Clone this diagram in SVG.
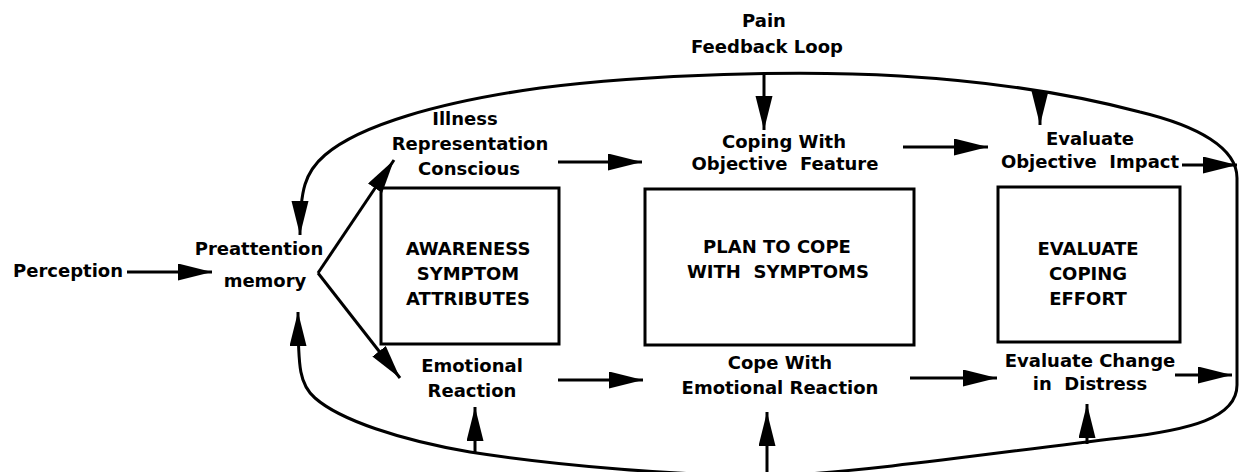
<svg xmlns="http://www.w3.org/2000/svg" width="1240" height="472" viewBox="0 0 1240 472">
  <style>
    text { font-family: "DejaVu Sans", "Verdana", sans-serif; font-weight: bold; font-size: 18px; fill: #000; text-anchor: middle; white-space: pre; }
    .box { fill: none; stroke: #000; stroke-width: 3; }
    .con { fill: none; stroke: #000; stroke-width: 3; }
    .arr { marker-end: url(#ah); }
  </style>
  <defs>
    <marker id="ah" markerUnits="userSpaceOnUse" markerWidth="36" markerHeight="18" refX="34" refY="8.5" orient="auto">
      <path d="M0,0 L34,8.5 L0,17 Z" fill="#000"/>
    </marker>
  </defs>
  <rect width="1240" height="472" fill="#fff"/>

  <g id="pain">
    <text x="764" y="27">Pain</text>
    <text x="767" y="53">Feedback Loop</text>
  </g>
  <g id="perception">
    <text x="68" y="277">Perception</text>
  </g>
  <g id="preattention">
    <text x="259" y="255">Preattention</text>
    <text x="265" y="287">memory</text>
  </g>
  <g id="illness-representation">
    <text x="465" y="125">Illness</text>
    <text x="470" y="150">Representation</text>
    <text x="469" y="175">Conscious</text>
  </g>
  <g id="awareness">
    <rect class="box" x="381" y="188" width="178" height="156"/>
    <text x="468" y="255">AWARENESS</text>
    <text x="468" y="280">SYMPTOM</text>
    <text x="468" y="305">ATTRIBUTES</text>
  </g>
  <g id="emotional-reaction">
    <text x="472" y="372">Emotional</text>
    <text x="472" y="397">Reaction</text>
  </g>
  <g id="coping-objective">
    <text x="784" y="148">Coping With</text>
    <text x="785" y="170">Objective  Feature</text>
  </g>
  <g id="plan">
    <rect class="box" x="645" y="189" width="269" height="156"/>
    <text x="777" y="253">PLAN TO COPE</text>
    <text x="778" y="278">WITH  SYMPTOMS</text>
  </g>
  <g id="cope-emotional">
    <text x="780" y="369">Cope With</text>
    <text x="780" y="394">Emotional Reaction</text>
  </g>
  <g id="evaluate-impact">
    <text x="1090" y="145">Evaluate</text>
    <text x="1090" y="168">Objective  Impact</text>
  </g>
  <g id="evaluate-coping">
    <rect class="box" x="998" y="187" width="182" height="155"/>
    <text x="1088" y="255">EVALUATE</text>
    <text x="1088" y="280">COPING</text>
    <text x="1088" y="305">EFFORT</text>
  </g>
  <g id="evaluate-change">
    <text x="1090" y="367">Evaluate Change</text>
    <text x="1090" y="390">in  Distress</text>
  </g>

  <g id="connectors">
    <path class="con arr" d="M127,272 H212"/>
    <path class="con arr" d="M318,273 L394,160"/>
    <path class="con arr" d="M318,273 L400,378"/>
    <path class="con arr" d="M558,162 H642"/>
    <path class="con arr" d="M903,147 H988"/>
    <path class="con arr" d="M1182,165 H1237"/>
    <path class="con arr" d="M558,380 H643"/>
    <path class="con arr" d="M910,378 H997"/>
    <path class="con arr" d="M1175,375 H1232"/>
    <path class="con arr" d="M764,73 V130"/>
    <path class="con arr" d="M1040,92 V125"/>
    <path class="con arr" d="M1237,300 V178 C1237,148 1198,126 1140,112 C1080,96 1000,82 900,76 C800,70 650,74 540,88 C440,102 360,125 325,155 C305,172 300,190 300,235"/>
    <path class="con arr" d="M1237,300 V385 C1237,418 1190,430 1120,438 C1000,452 880,470 780,476 C680,476 560,466 470,452 C400,440 340,420 315,398 C300,385 298,370 298,312"/>
    <path class="con arr" d="M475,452 V407"/>
    <path class="con arr" d="M767,472 V412"/>
    <path class="con arr" d="M1087,444 V404"/>
  </g>
</svg>
